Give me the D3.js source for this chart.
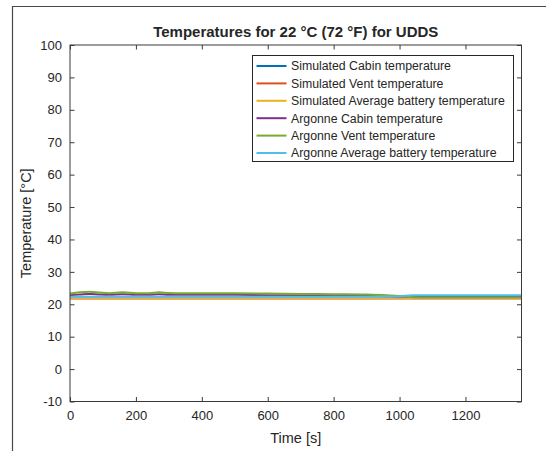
<!DOCTYPE html>
<html>
<head>
<meta charset="utf-8">
<script src="https://cdn.jsdelivr.net/npm/d3@7"></script>
<style>
  html, body { margin: 0; padding: 0; background: #fff; }
  svg { display: block; }
  text { font-family: "Liberation Sans", Arial, sans-serif; fill: #262626; }
</style>
</head>
<body>
<svg id="chart" width="546" height="451"></svg>
<script>
// Time samples [s] over the UDDS cycle
const timeSim = [0, 200, 400, 600, 800, 1000, 1200, 1370];
const simCabin = [22.0, 22.0, 22.0, 22.0, 22.0, 22.0, 22.0, 22.0];
const simVent = [21.8, 21.8, 21.8, 21.8, 21.8, 21.8, 21.8, 21.8];
const simBattery = [21.9, 21.9, 21.9, 21.9, 21.9, 21.9, 21.9, 21.9];

const timeArg = [0, 30, 60, 90, 120, 160, 200, 240, 270, 300, 340, 400, 500, 600, 700, 800, 900, 960, 1000, 1040, 1080, 1200, 1370];
const argCabin = [22.8, 23.0, 23.2, 23.0, 22.9, 23.1, 22.9, 22.9, 23.1, 22.9, 22.9, 22.9, 22.9, 22.8, 22.8, 22.7, 22.6, 22.5, 22.4, 22.4, 22.4, 22.4, 22.4];
const argVent = [23.3, 23.7, 23.9, 23.6, 23.4, 23.7, 23.4, 23.4, 23.7, 23.5, 23.4, 23.4, 23.4, 23.3, 23.2, 23.1, 23.0, 22.8, 22.5, 22.2, 22.1, 22.1, 22.1];
const argBattery = [22.3, 22.3, 22.3, 22.3, 22.3, 22.3, 22.3, 22.3, 22.3, 22.3, 22.3, 22.3, 22.3, 22.3, 22.3, 22.3, 22.3, 22.4, 22.5, 22.8, 22.8, 22.8, 22.8];

const seriesNames = [
  "Simulated Cabin temperature",
  "Simulated Vent temperature",
  "Simulated Average battery temperature",
  "Argonne Cabin temperature",
  "Argonne Vent temperature",
  "Argonne Average battery temperature"
];
const seriesColors = ["#0072BD", "#D95319", "#EDB120", "#7E2F8E", "#77AC30", "#4DBEEE"];

const xTicks = [0, 200, 400, 600, 800, 1000, 1200];
const yTicks = [-10, 0, 10, 20, 30, 40, 50, 60, 70, 80, 90, 100];

const titleText = "Temperatures for 22 °C (72 °F) for UDDS";
const xLabel = "Time [s]";
const yLabel = "Temperature [°C]";

const series = [
  { t: timeSim, v: simCabin },
  { t: timeSim, v: simVent },
  { t: timeSim, v: simBattery },
  { t: timeArg, v: argCabin },
  { t: timeArg, v: argVent },
  { t: timeArg, v: argBattery }
].map((s, i) => ({ name: seriesNames[i], color: seriesColors[i], pts: s.t.map((t, j) => [t, s.v[j]]) }));

const svg = d3.select("#chart");
const plot = { left: 70, top: 45, right: 521.5, bottom: 401.5 };

const x = d3.scaleLinear().domain([0, 1370]).range([plot.left, plot.right]);
const y = d3.scaleLinear().domain([-10, 100]).range([plot.bottom, plot.top]);

// Outer figure frame
svg.append("path")
  .attr("d", `M12.5,451 L12.5,6.5 L546,6.5`)
  .attr("fill", "none").attr("stroke", "#4a4a4a").attr("stroke-width", 1.2);

// Data lines, clipped to the axes
svg.append("clipPath").attr("id", "clip").append("rect")
  .attr("x", plot.left).attr("y", plot.top)
  .attr("width", plot.right - plot.left).attr("height", plot.bottom - plot.top);

const line = d3.line().x(d => x(d[0])).y(d => y(d[1])).curve(d3.curveMonotoneX);
svg.append("g").attr("clip-path", "url(#clip)")
  .selectAll("path").data(series).join("path")
  .attr("d", d => line(d.pts))
  .attr("fill", "none")
  .attr("stroke", d => d.color)
  .attr("stroke-width", 2)
  .attr("stroke-linejoin", "round");

// Axes with inward ticks on all four sides
const tickLen = 4.5;
const axisColor = "#3a3a3a";
const plainNum = d => String(d);
function styleAxis(g) {
  g.select(".domain").remove();
  g.selectAll(".tick line").attr("stroke", axisColor).attr("stroke-width", 1);
  g.selectAll(".tick text").attr("font-size", 13).attr("fill", "#262626")
    .attr("font-family", "Liberation Sans, Arial, sans-serif");
}
svg.append("g").attr("transform", `translate(0,${plot.bottom})`)
  .call(d3.axisBottom(x).tickValues(xTicks).tickFormat(plainNum).tickSizeInner(-tickLen).tickSizeOuter(0).tickPadding(9))
  .call(styleAxis);
svg.append("g").attr("transform", `translate(0,${plot.top})`)
  .call(d3.axisTop(x).tickValues(xTicks).tickSizeInner(-tickLen).tickSizeOuter(0).tickFormat(""))
  .call(styleAxis);
svg.append("g").attr("transform", `translate(${plot.left},0)`)
  .call(d3.axisLeft(y).tickValues(yTicks).tickFormat(plainNum).tickSizeInner(-tickLen).tickSizeOuter(0).tickPadding(8))
  .call(styleAxis);
svg.append("g").attr("transform", `translate(${plot.right},0)`)
  .call(d3.axisRight(y).tickValues(yTicks).tickSizeInner(-tickLen).tickSizeOuter(0).tickFormat(""))
  .call(styleAxis);

svg.append("rect")
  .attr("x", plot.left).attr("y", plot.top)
  .attr("width", plot.right - plot.left).attr("height", plot.bottom - plot.top)
  .attr("fill", "none").attr("stroke", axisColor).attr("stroke-width", 1);

// Title and axis labels
svg.append("text")
  .attr("x", (plot.left + plot.right) / 2).attr("y", 37)
  .attr("text-anchor", "middle").attr("font-size", 15).attr("font-weight", "bold")
  .attr("fill", "#000").text(titleText);
svg.append("text")
  .attr("x", (plot.left + plot.right) / 2).attr("y", 443)
  .attr("text-anchor", "middle").attr("font-size", 14.5).text(xLabel);
svg.append("text")
  .attr("transform", `translate(31,${(plot.top + plot.bottom) / 2}) rotate(-90)`)
  .attr("text-anchor", "middle").attr("font-size", 14.5).text(yLabel);

// Legend
const lg = { x: 252.5, y: 55.5, w: 261, h: 106, row: 17.4 };
const legend = svg.append("g");
legend.append("rect")
  .attr("x", lg.x).attr("y", lg.y).attr("width", lg.w).attr("height", lg.h)
  .attr("fill", "#fff").attr("stroke", "#262626").attr("stroke-width", 1);
const items = legend.selectAll("g.item").data(series).join("g")
  .attr("class", "item")
  .attr("transform", (d, i) => `translate(${lg.x},${lg.y + 10.5 + i * lg.row})`);
items.append("line")
  .attr("x1", 4).attr("x2", 34).attr("y1", 0).attr("y2", 0)
  .attr("stroke", d => d.color).attr("stroke-width", 2);
items.append("text")
  .attr("x", 38.5).attr("y", 4.3).attr("font-size", 12.3).attr("fill", "#000")
  .text(d => d.name);
</script>
</body>
</html>
